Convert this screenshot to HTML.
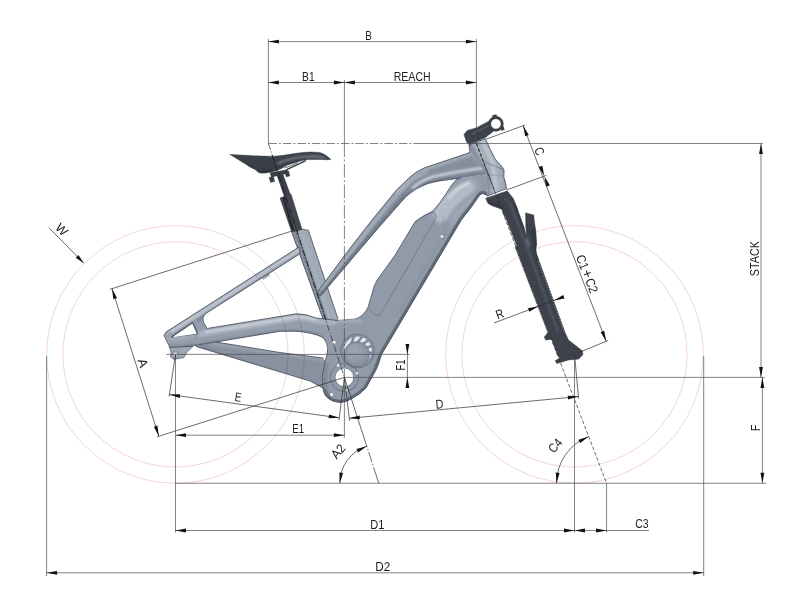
<!DOCTYPE html>
<html><head><meta charset="utf-8"><title>Geometry</title>
<style>
html,body{margin:0;padding:0;background:#fff;}
body{width:800px;height:612px;overflow:hidden;font-family:"Liberation Sans",sans-serif;}
svg{display:block;}
text{font-family:"Liberation Sans",sans-serif;-webkit-font-smoothing:antialiased;}
svg{will-change:transform;}
</style></head><body>
<svg width="800" height="612" viewBox="0 0 800 612">
<rect width="800" height="612" fill="#ffffff"/>
<defs>
<filter id="b1" filterUnits="userSpaceOnUse" x="0" y="0" width="800" height="612"><feGaussianBlur stdDeviation="0.9"/></filter>
<filter id="b3" filterUnits="userSpaceOnUse" x="0" y="0" width="800" height="612"><feGaussianBlur stdDeviation="0.5"/></filter>
<filter id="b2s" filterUnits="userSpaceOnUse" x="0" y="0" width="800" height="612"><feGaussianBlur stdDeviation="1.8"/></filter>
<filter id="b2" filterUnits="userSpaceOnUse" x="0" y="0" width="800" height="612"><feGaussianBlur stdDeviation="3"/></filter>
<linearGradient id="gSaddle" x1="0" y1="0" x2="1" y2="0">
<stop offset="0" stop-color="#3a3f48"/><stop offset="0.55" stop-color="#3c414a"/><stop offset="0.8" stop-color="#5a606b"/><stop offset="1" stop-color="#3f444d"/>
</linearGradient>
<linearGradient id="gFrame" x1="0" y1="0" x2="1" y2="1">
<stop offset="0" stop-color="#a3acb9"/><stop offset="1" stop-color="#838d9c"/>
</linearGradient>
<linearGradient id="gSeat" x1="0" y1="0" x2="1" y2="0">
<stop offset="0" stop-color="#7c8695"/><stop offset="0.4" stop-color="#99a3b1"/><stop offset="0.55" stop-color="#a8b1be"/><stop offset="1" stop-color="#8893a2"/>
</linearGradient>
<linearGradient id="gStay" x1="0" y1="0" x2="0.35" y2="1">
<stop offset="0" stop-color="#a4adba"/><stop offset="0.5" stop-color="#98a2b0"/><stop offset="1" stop-color="#7f8a99"/>
</linearGradient>
<linearGradient id="gTop" x1="0" y1="0" x2="1" y2="1">
<stop offset="0" stop-color="#a2abb8"/><stop offset="0.5" stop-color="#939dab"/><stop offset="1" stop-color="#808b9a"/>
</linearGradient>
<linearGradient id="gDown" x1="0" y1="0" x2="1" y2="0.6">
<stop offset="0" stop-color="#98a2b0"/><stop offset="0.55" stop-color="#8f99a8"/><stop offset="1" stop-color="#7d8796"/>
</linearGradient>
<linearGradient id="gHead" x1="0" y1="0" x2="1" y2="0">
<stop offset="0" stop-color="#7f8998"/><stop offset="0.5" stop-color="#a3acb9"/><stop offset="1" stop-color="#8c96a5"/>
</linearGradient>
<radialGradient id="gMotor" cx="0.4" cy="0.35" r="0.8">
<stop offset="0" stop-color="#9ca6b4"/><stop offset="1" stop-color="#87919f"/>
</radialGradient>
<linearGradient id="gDark" x1="0" y1="0" x2="1" y2="0">
<stop offset="0" stop-color="#3b4049"/><stop offset="0.5" stop-color="#4b515c"/><stop offset="1" stop-color="#30343c"/>
</linearGradient>
</defs>
<clipPath id="cp1"><path d="M196,345.5 L216,342 L280,352.5 L323,358 L335,372 L323,388 L310,381 L196,346.5 Z"/></clipPath>
<path d="M196,345.5 L216,342 L280,352.5 L323,358 L335,372 L323,388 L310,381 L196,346.5 Z" fill="#8791a0"/>
<g clip-path="url(#cp1)">
<path d="M210,343.5 L325,360" fill="none" stroke="#a7b0bd" stroke-width="3" stroke-linecap="round" stroke-linejoin="round" opacity="0.6" filter="url(#b1)"/>
<path d="M200,348 L322,388" fill="none" stroke="#717b8a" stroke-width="3" stroke-linecap="round" stroke-linejoin="round" opacity="0.7" filter="url(#b1)"/>
</g>
<path d="M216,342 L280,352.5 L323,358 M196,346.5 L310,381 L323,388" fill="none" stroke="#464d59" stroke-width="0.8" stroke-linejoin="round" stroke-linecap="round"/>
<polygon points="169.0,346.0 171.0,352.0 170.5,357.0 174.0,359.5 184.0,357.5 187.0,352.0 193.0,346.5" fill="#9ea7b4" stroke="#464d59" stroke-width="0.6" stroke-linejoin="round" />
<circle cx="175.4" cy="354.4" r="3.4" fill="#aab3bf" stroke="#6a7483" stroke-width="0.5"/>
<circle cx="175.4" cy="354.4" r="1.9" fill="#eef0f3" stroke="#6a7483" stroke-width="0.4"/>
<clipPath id="cp2"><path d="M291.5,231.5 L297.2,231 L297.4,228.4 L308.4,230.3 L338,319 L341,330 L325,330 L323,319 Z"/></clipPath>
<path d="M291.5,231.5 L297.2,231 L297.4,228.4 L308.4,230.3 L338,319 L341,330 L325,330 L323,319 Z" fill="#a1aab7"/>
<g clip-path="url(#cp2)">
<path d="M294,231 L326.5,325" fill="none" stroke="#7b8594" stroke-width="6.2" stroke-linecap="round" stroke-linejoin="round" opacity="1" filter="url(#b3)"/>
<path d="M292.6,232 L324,321" fill="none" stroke="#9fa9b6" stroke-width="1.6" stroke-linecap="round" stroke-linejoin="round" opacity="0.9" filter="url(#b1)"/>
<path d="M301,229 L331,322" fill="none" stroke="#a9b2be" stroke-width="3" stroke-linecap="round" stroke-linejoin="round" opacity="0.7" filter="url(#b1)"/>
</g>
<path d="M323,319 L291.5,231.5 L297.2,231 L297.4,228.4 L308.4,230.3 L338,319" fill="none" stroke="#464d59" stroke-width="0.8" stroke-linejoin="round" stroke-linecap="round"/>
<polygon points="262.0,277.5 268.5,273.5 269.5,275.5 263.5,279.5" fill="#aab3bf" stroke="#7d8795" stroke-width="0.4" stroke-linejoin="round" />
<clipPath id="cp3"><path d="M164,335.5 L166,332 L299,247 L300.3,253.6 L205.5,313.7 Q201.5,317.5 203.5,322 L207,328.5 L296,313.8 Q305,313.5 316,318 L338,320.5 L340,345 L327.5,352 Q328.5,342 322,337 Q312,332.5 296,331.2 L280,331.3 L190,346.3 L170,347.5 Z M171.6,336.8 L192.6,322.6 L197.6,333.4 Z" clip-rule="evenodd"/></clipPath>
<path d="M164,335.5 L166,332 L299,247 L300.3,253.6 L205.5,313.7 Q201.5,317.5 203.5,322 L207,328.5 L296,313.8 Q305,313.5 316,318 L338,320.5 L340,345 L327.5,352 Q328.5,342 322,337 Q312,332.5 296,331.2 L280,331.3 L190,346.3 L170,347.5 Z M171.6,336.8 L192.6,322.6 L197.6,333.4 Z" fill="#939dab" fill-rule="evenodd"/>
<g clip-path="url(#cp3)">
<path d="M166,333.5 L299,248.5" fill="none" stroke="#a7b0bd" stroke-width="4" stroke-linecap="round" stroke-linejoin="round" opacity="0.9" filter="url(#b1)"/>
<path d="M172,331.6 L299,250.4" fill="none" stroke="#dce1e8" stroke-width="1.6" stroke-linecap="round" stroke-linejoin="round" opacity="1" filter="url(#b1)"/>
<path d="M198,320.5 L300.5,255" fill="none" stroke="#717b8a" stroke-width="2.2" stroke-linecap="round" stroke-linejoin="round" opacity="0.85" filter="url(#b1)"/>
<path d="M200,334 L296,318 Q308,317.5 320,321.5 L338,323" fill="none" stroke="#abb4c0" stroke-width="6" stroke-linecap="round" stroke-linejoin="round" opacity="0.95" filter="url(#b1)"/>
<path d="M206,332 L296,316.9 Q306,316.5 316,319.7" fill="none" stroke="#dce1e8" stroke-width="1.7" stroke-linecap="round" stroke-linejoin="round" opacity="1" filter="url(#b1)"/>
<path d="M186,347.5 L280,332 L298,332 Q314,333.5 322,338" fill="none" stroke="#717b8a" stroke-width="3.5" stroke-linecap="round" stroke-linejoin="round" opacity="0.8" filter="url(#b1)"/>
<path d="M166,340 L192,336" fill="none" stroke="#a7b0bd" stroke-width="5" stroke-linecap="round" stroke-linejoin="round" opacity="0.7" filter="url(#b1)"/>
<path d="M168,347 L192,345.5" fill="none" stroke="#717b8a" stroke-width="2" stroke-linecap="round" stroke-linejoin="round" opacity="0.7" filter="url(#b1)"/>
</g>
<path d="M356,319 L338,320.5 L316,318 Q305,313.5 296,313.8 L207,328.5 L203.5,322 Q201.5,317.5 205.5,313.7 L300.3,253.6 L299,247 L166,332 L164,335.5 L170,347.5 L190,346.3 L280,331.3 L296,331.2 Q312,332.5 322,337 Q328.5,342 327.5,352 M171.6,336.8 L192.6,322.6 L197.6,333.4 Z" fill="none" stroke="#464d59" stroke-width="0.8" stroke-linejoin="round" stroke-linecap="round"/>
<path d="M171.6,336.8 L192.6,322.6 L197.6,333.4" fill="none" stroke="#5b6473" stroke-width="1.5" stroke-linejoin="round"/>
<path d="M172.8,337.2 L192.4,324.4 L196.2,333.8 Z" fill="#ffffff" stroke="none"/>
<clipPath id="cp4"><path d="M317.5,293.5 L319.6,289 L351,247 L372,220 L396.5,190 L408.5,178.5 Q414,172.5 424,168 L470,152.5 L487,174 L460,178 L454,179 Q438,180.5 428,183.5 Q415,188 406,196.5 L380,226 L351,260 L320.5,296 Z"/></clipPath>
<path d="M317.5,293.5 L319.6,289 L351,247 L372,220 L396.5,190 L408.5,178.5 Q414,172.5 424,168 L470,152.5 L487,174 L460,178 L454,179 Q438,180.5 428,183.5 Q415,188 406,196.5 L380,226 L351,260 L320.5,296 Z" fill="#858f9e"/>
<g clip-path="url(#cp4)">
<path d="M318,290 L351,247 L372,220 L396.5,190" fill="none" stroke="#9aa4b2" stroke-width="5.5" stroke-linecap="round" stroke-linejoin="round" opacity="0.95" filter="url(#b1)"/>
<path d="M396.5,190 L409,177.5 Q415,171.5 424,168 L470,152.5" fill="none" stroke="#a5aebb" stroke-width="7" stroke-linecap="round" stroke-linejoin="round" opacity="0.95" filter="url(#b1)"/>
<path d="M322.5,289.5 L353,250 L374,223 L398.5,193.5 L411,181.5 Q417,176 427,172.5" fill="none" stroke="#c3cad4" stroke-width="1.6" stroke-linecap="round" stroke-linejoin="round" opacity="0.85" filter="url(#b1)"/>
<path d="M320.5,296 L351,260 L380,226 L406,196.5 Q415,188 428,183.5 Q438,180.5 454,179 L487,174.5" fill="none" stroke="#6c7685" stroke-width="4.2" stroke-linecap="round" stroke-linejoin="round" opacity="0.95" filter="url(#b1)"/>
<path d="M321.5,292.5 L352,255 L381.5,221 L404.5,194" fill="none" stroke="#646e7d" stroke-width="0.7" stroke-linecap="round" stroke-linejoin="round" opacity="0.8"/>
<path d="M413,188 Q421,180.5 432,177 Q450,172.5 486,167.5" fill="none" stroke="#d3d9e1" stroke-width="2.6" stroke-linecap="round" stroke-linejoin="round" opacity="0.95" filter="url(#b1)"/>
<path d="M430,165.5 L470,153" fill="none" stroke="#9aa4b2" stroke-width="3" stroke-linecap="round" stroke-linejoin="round" opacity="0.8" filter="url(#b1)"/>
</g>
<path d="M460,178 L454,179 Q438,180.5 428,183.5 Q415,188 406,196.5 L380,226 L351,260 L320.5,296 L317.5,293.5 L319.6,289 L351,247 L372,220 L396.5,190 L408.5,178.5 Q414,172.5 424,168 L470,152.5" fill="none" stroke="#464d59" stroke-width="0.8" stroke-linejoin="round" stroke-linecap="round"/>
<clipPath id="cp5"><path d="M338,320.5 L356,319 Q362,317 366,311 L368.3,306.6 Q370,300 371.7,295 Q373.5,286.5 376.7,280.7 L394.8,255.6 L415.2,221.5 Q424,215 433,211 Q440,203 446,194 Q451,185 456,180 L460,178 L487,174 L487.7,195.8 L482.9,193.5 Q480,194.3 478.9,196.3 L470.9,207.8 L461.3,220 L437.6,260 L413.9,300 L387.8,344 L381.5,354.6 Q378.5,365 376,370 L366,388 Q360,394.5 352,398.5 Q346,402.5 340,402.5 Q333,402 329,399 Q324.5,396 323.5,391 L323,388 Q321,375 325,362 Q327,355 327.5,351 L332,330 Z"/></clipPath>
<path d="M338,320.5 L356,319 Q362,317 366,311 L368.3,306.6 Q370,300 371.7,295 Q373.5,286.5 376.7,280.7 L394.8,255.6 L415.2,221.5 Q424,215 433,211 Q440,203 446,194 Q451,185 456,180 L460,178 L487,174 L487.7,195.8 L482.9,193.5 Q480,194.3 478.9,196.3 L470.9,207.8 L461.3,220 L437.6,260 L413.9,300 L387.8,344 L381.5,354.6 Q378.5,365 376,370 L366,388 Q360,394.5 352,398.5 Q346,402.5 340,402.5 Q333,402 329,399 Q324.5,396 323.5,391 L323,388 Q321,375 325,362 Q327,355 327.5,351 L332,330 Z" fill="#909aa9"/>
<g clip-path="url(#cp5)">
<path d="M440,214 Q452,196 470,186" fill="none" stroke="#a7b0bd" stroke-width="16" stroke-linecap="round" stroke-linejoin="round" opacity="0.9" filter="url(#b2)"/>
<path d="M441,216 Q450,198 468,187.5" fill="none" stroke="#b4bcc7" stroke-width="13" stroke-linecap="round" stroke-linejoin="round" opacity="0.95" filter="url(#b2s)"/>
<path d="M452,222 Q462,204 478,197" fill="none" stroke="#a3acb9" stroke-width="5" stroke-linecap="round" stroke-linejoin="round" opacity="0.8" filter="url(#b2s)"/>
<path d="M449,198 Q455,188.5 468,183.5" fill="none" stroke="#d3d9e1" stroke-width="3.2" stroke-linecap="round" stroke-linejoin="round" opacity="0.95" filter="url(#b1)"/>
<path d="M436,213 Q443,203 449,193" fill="none" stroke="#c3cad4" stroke-width="2" stroke-linecap="round" stroke-linejoin="round" opacity="0.7" filter="url(#b1)"/>
<path d="M487.7,195.8 L482.9,193.5 Q480,194.3 478.9,196.3 L470.9,207.8 L461.3,220 L437.6,260 L413.9,300 L387.8,344 L381.5,354.6 L376,370 L366,388 Q360,394.5 352,398.5 Q346,402.5 340,402.5 Q333,402 329,399 L323.5,391" fill="none" stroke="#5f6877" stroke-width="5.5" stroke-linecap="round" stroke-linejoin="round" opacity="0.95" filter="url(#b3)"/>
<path d="M443,217 L446,232 L398,315" fill="none" stroke="#7b8594" stroke-width="1.2" stroke-linecap="round" stroke-linejoin="round" opacity="0.6" filter="url(#b1)"/>
<path d="M330,322 L360,321" fill="none" stroke="#a7b0bd" stroke-width="4" stroke-linecap="round" stroke-linejoin="round" opacity="0.7" filter="url(#b1)"/>
<path d="M327,365 Q323,380 327,395" fill="none" stroke="#717b8a" stroke-width="3" stroke-linecap="round" stroke-linejoin="round" opacity="0.6" filter="url(#b1)"/>
</g>
<path d="M356,319 Q362,317 366,311 L368.3,306.6 Q370,300 371.7,295 Q373.5,286.5 376.7,280.7 L394.8,255.6 L415.2,221.5 Q424,215 433,211 Q440,203 446,194 Q451,185 456,180 L460,178 M487.7,195.8 L482.9,193.5 Q480,194.3 478.9,196.3 L470.9,207.8 L461.3,220 L437.6,260 L413.9,300 L387.8,344 L381.5,354.6 Q378.5,365 376,370 L366,388 Q360,394.5 352,398.5 Q346,402.5 340,402.5 Q333,402 329,399 Q324.5,396 323.5,391 L323,388 Q321,375 325,362 Q327,355 327.5,351" fill="none" stroke="#464d59" stroke-width="0.8" stroke-linejoin="round" stroke-linecap="round"/>
<path d="M416,222 Q424,215 433.4,211.7 Q436.5,214 435.7,218.6 L380.9,313.4 Q379.5,316 377.4,315.7 Q372.5,314.5 369.4,308.9" fill="none" stroke="#5d6674" stroke-width="0.6"/>
<circle cx="441.9" cy="236.4" r="2.0" fill="#e4e8ec" stroke="#687180" stroke-width="0.6"/>
<clipPath id="cp6"><path d="M468.9,145.1 L485.3,138.6 L490.2,149.2 L495.1,159 L502.5,167.2 L504.1,170.5 L503.8,177 L505.7,183.6 L506.6,188.5 L487.7,195.8 L486.5,174 L470,152.5 Z"/></clipPath>
<path d="M468.9,145.1 L485.3,138.6 L490.2,149.2 L495.1,159 L502.5,167.2 L504.1,170.5 L503.8,177 L505.7,183.6 L506.6,188.5 L487.7,195.8 L486.5,174 L470,152.5 Z" fill="#a6afbc"/>
<g clip-path="url(#cp6)">
<path d="M470,146 L487,175 L488,197" fill="none" stroke="#808a99" stroke-width="5" stroke-linecap="round" stroke-linejoin="round" opacity="0.85" filter="url(#b1)"/>
<path d="M483,142 L493,163 L496,192" fill="none" stroke="#bcc4ce" stroke-width="4.5" stroke-linecap="round" stroke-linejoin="round" opacity="0.95" filter="url(#b1)"/>
<path d="M489,143 L503,169 L506,190" fill="none" stroke="#8a94a3" stroke-width="2.2" stroke-linecap="round" stroke-linejoin="round" opacity="0.8" filter="url(#b1)"/>
</g>
<path d="M470,152.5 L468.9,145.1 L485.3,138.6 L490.2,149.2 L495.1,159 L502.5,167.2 L504.1,170.5 L503.8,177 L505.7,183.6 L506.6,188.5 L487.7,195.8" fill="none" stroke="#464d59" stroke-width="0.8" stroke-linejoin="round" stroke-linecap="round"/>
<path d="M483.6,160.6 L487.7,163.1 L503.3,169.6" stroke="#5d6674" stroke-width="0.6" fill="none"/>
<path d="M487,174.5 L503.8,176" stroke="#7b8594" stroke-width="0.5" fill="none"/>
<circle cx="495.1" cy="166.9" r="1.0" fill="#dfe3e8" stroke="#6a7483" stroke-width="0.4"/>
<circle cx="357.5" cy="351" r="16.8" fill="#8791a0" stroke="#566070" stroke-width="0.6"/>
<circle cx="357.8" cy="350.6" r="14.3" fill="#e4e7eb" stroke="#6a7483" stroke-width="0.4"/>
<line x1="351.0" y1="344.2" x2="354.2" y2="336.2" stroke="#7d8796" stroke-width="2.4"/>
<line x1="357.2" y1="342.6" x2="362.4" y2="336.5" stroke="#7d8796" stroke-width="2.4"/>
<line x1="362.6" y1="344.2" x2="368.4" y2="340.3" stroke="#7d8796" stroke-width="2.4"/>
<line x1="366.4" y1="347.7" x2="371.9" y2="346.0" stroke="#7d8796" stroke-width="2.4"/>
<line x1="368.3" y1="352.6" x2="372.5" y2="352.7" stroke="#7d8796" stroke-width="2.4"/>
<circle cx="356.8" cy="354.2" r="12.6" fill="#8d97a6" stroke="#5b6473" stroke-width="0.6"/>
<circle cx="356.5" cy="353.9" r="10.6" fill="url(#gMotor)" stroke="#7a8493" stroke-width="0.4"/>
<circle cx="344.4" cy="377.4" r="14.2" fill="none" stroke="#5a6371" stroke-width="0.7"/>
<circle cx="344.4" cy="377.4" r="9.3" fill="#ffffff" stroke="#59616e" stroke-width="0.6"/>
<circle cx="334" cy="342.4" r="2.1" fill="#f4f6f8" stroke="#5f6877" stroke-width="0.5"/>
<circle cx="338.2" cy="365.4" r="1.7" fill="#f4f6f8" stroke="#5f6877" stroke-width="0.5"/>
<circle cx="357" cy="373.2" r="1.6" fill="#f4f6f8" stroke="#5f6877" stroke-width="0.5"/>
<circle cx="331.6" cy="394.6" r="2.0" fill="#f4f6f8" stroke="#5f6877" stroke-width="0.5"/>
<circle cx="346.4" cy="390.4" r="1.6" fill="#f4f6f8" stroke="#5f6877" stroke-width="0.5"/>
<circle cx="175.5" cy="354.4" r="128.8" fill="none" stroke="#efc2c9" stroke-width="0.7" style="mix-blend-mode:multiply"/>
<circle cx="175.5" cy="354.4" r="112.6" fill="none" stroke="#efc2c9" stroke-width="0.7" style="mix-blend-mode:multiply"/>
<circle cx="574.5" cy="354.4" r="128.8" fill="none" stroke="#efc2c9" stroke-width="0.7" style="mix-blend-mode:multiply"/>
<circle cx="574.5" cy="354.4" r="112.6" fill="none" stroke="#efc2c9" stroke-width="0.7" style="mix-blend-mode:multiply"/>
<clipPath id="cp7"><path d="M485.9,198.2 L507.2,190.9 L513.1,198.2 L516.8,207.1 L518.5,212.2 L524.1,227.6 L526.8,238 L525.9,227.6 L525.6,212.9 L533.7,215.1 L534.4,221.8 L535.9,232.1 L536.6,243.8 L535.9,249.7 L536.6,254.1 L565.6,334.1 L568.5,340 L582.5,351 L582.8,354.7 L578.8,359.1 L568.5,359.9 L556.8,363.5 L555.3,360.6 L559.7,358.4 L557.5,354.7 L551.6,339.3 L545.7,340 L544.3,337.1 L547.9,332.6 L515.3,247.5 L516,245.3 L503.5,213.7 L502,209.3 L491.8,205.6 L488.1,203.4 Z"/></clipPath>
<path d="M485.9,198.2 L507.2,190.9 L513.1,198.2 L516.8,207.1 L518.5,212.2 L524.1,227.6 L526.8,238 L525.9,227.6 L525.6,212.9 L533.7,215.1 L534.4,221.8 L535.9,232.1 L536.6,243.8 L535.9,249.7 L536.6,254.1 L565.6,334.1 L568.5,340 L582.5,351 L582.8,354.7 L578.8,359.1 L568.5,359.9 L556.8,363.5 L555.3,360.6 L559.7,358.4 L557.5,354.7 L551.6,339.3 L545.7,340 L544.3,337.1 L547.9,332.6 L515.3,247.5 L516,245.3 L503.5,213.7 L502,209.3 L491.8,205.6 L488.1,203.4 Z" fill="#3d424b"/>
<g clip-path="url(#cp7)">
<path d="M510,203 L528,250 L558,332" fill="none" stroke="#555b66" stroke-width="2.2" stroke-linecap="round" stroke-linejoin="round" opacity="0.9" filter="url(#b1)"/>
<path d="M516,204 L524,226" fill="none" stroke="#2c3037" stroke-width="2.5" stroke-linecap="round" stroke-linejoin="round" opacity="0.8" filter="url(#b1)"/>
<path d="M533,230 L538,256 L566,334" fill="none" stroke="#2c3037" stroke-width="2.2" stroke-linecap="round" stroke-linejoin="round" opacity="0.8" filter="url(#b1)"/>
<path d="M527,238 L529,246" fill="none" stroke="#8d939d" stroke-width="1.5" stroke-linecap="round" stroke-linejoin="round" opacity="0.9" filter="url(#b1)"/>
<path d="M488,202 L502,208" fill="none" stroke="#2c3037" stroke-width="2.5" stroke-linecap="round" stroke-linejoin="round" opacity="0.7" filter="url(#b1)"/>
</g>
<path d="M485.9,198.2 L507.2,190.9 L513.1,198.2 L516.8,207.1 L518.5,212.2 L524.1,227.6 L526.8,238 L525.9,227.6 L525.6,212.9 L533.7,215.1 L534.4,221.8 L535.9,232.1 L536.6,243.8 L535.9,249.7 L536.6,254.1 L565.6,334.1 L568.5,340 L582.5,351 L582.8,354.7 L578.8,359.1 L568.5,359.9 L556.8,363.5 L555.3,360.6 L559.7,358.4 L557.5,354.7 L551.6,339.3 L545.7,340 L544.3,337.1 L547.9,332.6 L515.3,247.5 L516,245.3 L503.5,213.7 L502,209.3 L491.8,205.6 L488.1,203.4 Z" fill="none" stroke="#2b2f36" stroke-width="0.5" stroke-linejoin="round" stroke-linecap="round"/>
<path d="M504.6,216.5 L516.3,246" fill="none" stroke="#dfe2e7" stroke-width="0.9"/>
<path d="M538.5,261 L564.9,334" fill="none" stroke="#e3e6ea" stroke-width="0.7" stroke-dasharray="1.6 1.4" opacity="0.7"/>
<path d="M517,250.5 L548.3,332.2" fill="none" stroke="#e3e6ea" stroke-width="0.7" stroke-dasharray="1.6 1.4" opacity="0.7"/>
<circle cx="504.5" cy="199.5" r="0.7" fill="#6d737d" stroke="none" stroke-width="0.6"/>
<circle cx="507.5" cy="201.3" r="0.7" fill="#6d737d" stroke="none" stroke-width="0.6"/>
<circle cx="508.2" cy="198.3" r="0.6" fill="#6d737d" stroke="none" stroke-width="0.6"/>
<path d="M464,134.5 L467.3,130.4 L476.3,127.9 L488.5,121.4 L493.5,131.2 L485.3,137.5 L468.9,144.6 L466.5,141.8 Z" fill="#3d424b" stroke="#2b2f36" stroke-width="0.5" stroke-linejoin="round" />
<circle cx="495.9" cy="123.8" r="6.3" fill="#ffffff" stroke="#3a3f48" stroke-width="2.3"/>
<circle cx="495.9" cy="123.8" r="7.5" fill="none" stroke="#2b2f36" stroke-width="0.4"/>
<circle cx="495.9" cy="123.8" r="5.2" fill="none" stroke="#2b2f36" stroke-width="0.4"/>
<polygon points="492.3,115.5 496.3,114.6 497.0,116.5 493.0,117.4" fill="#3a3f48" stroke="#2b2f36" stroke-width="0.3" stroke-linejoin="round" />
<polygon points="500.7,128.0 503.6,126.5 504.4,129.5 501.6,130.8" fill="#3a3f48" stroke="#2b2f36" stroke-width="0.3" stroke-linejoin="round" />
<path d="M472,134 L489,125.5" stroke="#596069" stroke-width="1.4" fill="none" opacity="0.8" stroke-linecap="round"/>
<path d="M476.3,128 L478.5,140.5" stroke="#24272d" stroke-width="0.6" fill="none"/>
<polygon points="277.0,175.5 283.0,174.5 290.5,195.0 284.5,197.0" fill="#3a3f48" stroke="#2b2f36" stroke-width="0.4" stroke-linejoin="round" />
<polygon points="280.0,198.0 291.0,194.0 302.0,229.3 298.5,230.5 291.5,231.5" fill="#41464f" stroke="#2b2f36" stroke-width="0.4" stroke-linejoin="round" />
<path d="M283.5,197 L293,230.5" stroke="#23262b" stroke-width="2" fill="none"/>
<clipPath id="cp8"><path d="M230,154.4 L250,155.6 Q262,156.2 272.5,156.4 Q284,155.4 295,153.4 Q303,152.2 310.7,152 Q316,152 319.7,152.6 Q323.5,153.6 326.5,155.7 L331,159.5 Q326,160 322,159.5 L308.5,159.6 Q303,160.2 299.5,161.3 L287.1,165.2 L281,168.8 Q275,171.5 270,172.3 Q264,173.5 260,173 Q257,172 256,170 L250,167 L247,165 Z"/></clipPath>
<path d="M230,154.4 L250,155.6 Q262,156.2 272.5,156.4 Q284,155.4 295,153.4 Q303,152.2 310.7,152 Q316,152 319.7,152.6 Q323.5,153.6 326.5,155.7 L331,159.5 Q326,160 322,159.5 L308.5,159.6 Q303,160.2 299.5,161.3 L287.1,165.2 L281,168.8 Q275,171.5 270,172.3 Q264,173.5 260,173 Q257,172 256,170 L250,167 L247,165 Z" fill="#393e47"/>
<g clip-path="url(#cp8)">
<path d="M278.1,163.2 Q286,159.8 295,158 Q304,156.4 313,156.3 Q319,156.6 324.5,158" fill="none" stroke="#737984" stroke-width="2.4" stroke-linecap="round" stroke-linejoin="round" opacity="0.95" filter="url(#b1)"/>
<path d="M232,155.2 L272,157.2 Q290,156 310,152.8" fill="none" stroke="#4a505a" stroke-width="1.2" stroke-linecap="round" stroke-linejoin="round" opacity="0.8" filter="url(#b1)"/>
<path d="M248,166 L258,172 L272,171" fill="none" stroke="#2a2e34" stroke-width="2" stroke-linecap="round" stroke-linejoin="round" opacity="0.8" filter="url(#b1)"/>
</g>
<path d="M230,154.4 L250,155.6 Q262,156.2 272.5,156.4 Q284,155.4 295,153.4 Q303,152.2 310.7,152 Q316,152 319.7,152.6 Q323.5,153.6 326.5,155.7 L331,159.5 Q326,160 322,159.5 L308.5,159.6 Q303,160.2 299.5,161.3 L287.1,165.2 L281,168.8 Q275,171.5 270,172.3 Q264,173.5 260,173 Q257,172 256,170 L250,167 L247,165 Z" fill="none" stroke="#2b2f36" stroke-width="0.4" stroke-linejoin="round" stroke-linecap="round"/>
<path d="M286.8,169.6 L305.3,160.9" stroke="#353a42" stroke-width="1.4" fill="none" stroke-linecap="round"/>
<path d="M284.5,168 Q290,166.5 298,162.5" stroke="#353a42" stroke-width="0.8" fill="none"/>
<polygon points="270.0,172.8 287.0,169.8 288.5,173.2 271.5,177.0" fill="#3a3f48" stroke="#2b2f36" stroke-width="0.4" stroke-linejoin="round" />
<polygon points="269.1,177.4 273.4,176.4 274.6,181.4 270.6,182.4" fill="#3a3f48" stroke="#2b2f36" stroke-width="0.4" stroke-linejoin="round" />
<polygon points="284.9,171.6 288.6,170.9 289.8,176.0 286.2,176.8" fill="#3a3f48" stroke="#2b2f36" stroke-width="0.4" stroke-linejoin="round" />
<line x1="268.40" y1="39.00" x2="268.40" y2="143.50" stroke="#4d4d4d" stroke-width="0.7"/>
<line x1="476.40" y1="39.00" x2="476.40" y2="143.50" stroke="#4d4d4d" stroke-width="0.7"/>
<line x1="344.40" y1="80.00" x2="344.40" y2="143.50" stroke="#4d4d4d" stroke-width="0.7"/>
<line x1="268.40" y1="41.60" x2="476.40" y2="41.60" stroke="#4d4d4d" stroke-width="0.7"/>
<polygon points="268.40,41.60 278.90,39.70 278.90,43.50" fill="#111"/>
<polygon points="476.40,41.60 465.90,43.50 465.90,39.70" fill="#111"/>
<line x1="268.40" y1="82.50" x2="476.40" y2="82.50" stroke="#4d4d4d" stroke-width="0.7"/>
<polygon points="268.40,82.50 278.90,80.60 278.90,84.40" fill="#111"/>
<polygon points="344.40,82.50 333.90,84.40 333.90,80.60" fill="#111"/>
<polygon points="344.40,82.50 354.90,80.60 354.90,84.40" fill="#111"/>
<polygon points="476.40,82.50 465.90,84.40 465.90,80.60" fill="#111"/>
<text x="368.60" y="39.75" font-size="12.7" text-anchor="middle" fill="#1c1c1c" textLength="6.6" lengthAdjust="spacingAndGlyphs">B</text>
<text x="308.40" y="80.75" font-size="12.7" text-anchor="middle" fill="#1c1c1c" textLength="12.6" lengthAdjust="spacingAndGlyphs">B1</text>
<text x="412.20" y="80.75" font-size="12.7" text-anchor="middle" fill="#1c1c1c" textLength="37.0" lengthAdjust="spacingAndGlyphs">REACH</text>
<line x1="268.40" y1="143.50" x2="421.00" y2="143.50" stroke="#4d4d4d" stroke-width="0.7" stroke-dasharray="8.5 2 2 2"/>
<line x1="421.00" y1="143.50" x2="763.00" y2="143.50" stroke="#4d4d4d" stroke-width="0.7"/>
<line x1="344.40" y1="143.50" x2="344.40" y2="377.40" stroke="#4d4d4d" stroke-width="0.7" stroke-dasharray="13.5 2.5 2 2.5"/>
<line x1="268.40" y1="143.50" x2="344.40" y2="377.40" stroke="#2c2c2c" stroke-width="0.7" stroke-dasharray="6.6 1.6 1.4 1.6"/>
<line x1="272.14" y1="155.00" x2="296.67" y2="230.50" stroke="#17191d" stroke-width="0.75" stroke-dasharray="6.6 1.6 1.4 1.6" stroke-dashoffset="12.09"/>
<line x1="296.67" y1="230.50" x2="326.40" y2="322.00" stroke="#23262b" stroke-width="0.8" stroke-dasharray="6.6 1.6 1.4 1.6" stroke-dashoffset="91.48"/>
<line x1="344.40" y1="377.40" x2="367.11" y2="447.30" stroke="#2c2c2c" stroke-width="0.7"/>
<line x1="367.11" y1="447.30" x2="378.79" y2="483.25" stroke="#2c2c2c" stroke-width="0.7" stroke-dasharray="0 1.8 1.4 1.8 10.5 2 1.4 2 30"/>
<line x1="476.40" y1="143.50" x2="606.57" y2="483.25" stroke="#2c2c2c" stroke-width="0.7" stroke-dasharray="3.6 2"/>
<line x1="476.40" y1="143.50" x2="494.98" y2="192.00" stroke="#23262b" stroke-width="0.9" stroke-dasharray="3.2 2"/>
<line x1="761.00" y1="143.50" x2="761.00" y2="377.40" stroke="#8c8c8c" stroke-width="1.1"/>
<line x1="762.40" y1="377.40" x2="762.40" y2="483.25" stroke="#4d4d4d" stroke-width="0.7"/>
<line x1="344.40" y1="377.40" x2="764.80" y2="377.40" stroke="#4d4d4d" stroke-width="0.7"/>
<line x1="175.50" y1="483.25" x2="766.00" y2="483.25" stroke="#4d4d4d" stroke-width="0.7"/>
<polygon points="761.00,143.50 762.90,154.00 759.10,154.00" fill="#111"/>
<polygon points="761.00,377.40 759.10,366.90 762.90,366.90" fill="#111"/>
<polygon points="762.40,377.40 764.30,387.90 760.50,387.90" fill="#111"/>
<polygon points="762.40,483.25 760.50,472.75 764.30,472.75" fill="#111"/>
<text x="759.15" y="258.60" font-size="12.7" text-anchor="middle" fill="#1c1c1c" textLength="35.1" lengthAdjust="spacingAndGlyphs" transform="rotate(-90 759.15 258.60)">STACK</text>
<text x="759.55" y="427.90" font-size="12.7" text-anchor="middle" fill="#1c1c1c" textLength="6.6" lengthAdjust="spacingAndGlyphs" transform="rotate(-90 759.55 427.90)">F</text>
<line x1="166.00" y1="354.40" x2="410.00" y2="354.40" stroke="#4d4d4d" stroke-width="0.7"/>
<line x1="407.40" y1="344.00" x2="407.40" y2="388.00" stroke="#4d4d4d" stroke-width="0.7"/>
<polygon points="407.40,354.40 405.50,343.90 409.30,343.90" fill="#111"/>
<polygon points="407.40,377.40 409.30,387.90 405.50,387.90" fill="#111"/>
<text x="405.15" y="365.00" font-size="12.7" text-anchor="middle" fill="#1c1c1c" textLength="10.9" lengthAdjust="spacingAndGlyphs" transform="rotate(-90 405.15 365.00)">F1</text>
<line x1="175.50" y1="354.40" x2="175.50" y2="532.50" stroke="#4d4d4d" stroke-width="0.7"/>
<line x1="574.50" y1="354.40" x2="574.50" y2="532.50" stroke="#4d4d4d" stroke-width="0.7"/>
<line x1="606.57" y1="483.25" x2="606.57" y2="532.50" stroke="#4d4d4d" stroke-width="0.7"/>
<line x1="175.50" y1="530.50" x2="649.00" y2="530.50" stroke="#4d4d4d" stroke-width="0.7"/>
<polygon points="175.50,530.50 186.00,528.60 186.00,532.40" fill="#111"/>
<polygon points="574.50,530.50 564.00,532.40 564.00,528.60" fill="#111"/>
<polygon points="574.50,530.50 585.00,528.60 585.00,532.40" fill="#111"/>
<polygon points="606.57,530.50 596.07,532.40 596.07,528.60" fill="#111"/>
<text x="377.30" y="528.85" font-size="12.7" text-anchor="middle" fill="#1c1c1c" textLength="14.1" lengthAdjust="spacingAndGlyphs">D1</text>
<text x="641.90" y="528.25" font-size="12.7" text-anchor="middle" fill="#1c1c1c" textLength="13.4" lengthAdjust="spacingAndGlyphs">C3</text>
<line x1="46.60" y1="356.00" x2="46.60" y2="576.00" stroke="#4d4d4d" stroke-width="0.7"/>
<line x1="703.70" y1="356.00" x2="703.70" y2="576.00" stroke="#4d4d4d" stroke-width="0.7"/>
<line x1="46.60" y1="572.80" x2="703.70" y2="572.80" stroke="#4d4d4d" stroke-width="0.7"/>
<polygon points="46.60,572.80 57.10,570.90 57.10,574.70" fill="#111"/>
<polygon points="703.70,572.80 693.20,574.70 693.20,570.90" fill="#111"/>
<text x="382.80" y="570.75" font-size="12.7" text-anchor="middle" fill="#1c1c1c" textLength="15.0" lengthAdjust="spacingAndGlyphs">D2</text>
<line x1="344.40" y1="377.40" x2="344.40" y2="437.50" stroke="#4d4d4d" stroke-width="0.7"/>
<line x1="175.50" y1="435.20" x2="344.40" y2="435.20" stroke="#4d4d4d" stroke-width="0.7"/>
<polygon points="175.50,435.20 186.00,433.30 186.00,437.10" fill="#111"/>
<polygon points="344.40,435.20 333.90,437.10 333.90,433.30" fill="#111"/>
<text x="298.10" y="432.85" font-size="12.7" text-anchor="middle" fill="#1c1c1c" textLength="11.9" lengthAdjust="spacingAndGlyphs">E1</text>
<line x1="175.50" y1="354.40" x2="169.10" y2="396.60" stroke="#2c2c2c" stroke-width="0.7"/>
<line x1="344.40" y1="377.40" x2="338.90" y2="420.30" stroke="#2c2c2c" stroke-width="0.7"/>
<line x1="169.50" y1="394.60" x2="339.20" y2="417.80" stroke="#2c2c2c" stroke-width="0.7"/>
<polygon points="169.50,394.60 180.16,394.14 179.65,397.90" fill="#111"/>
<polygon points="339.20,417.80 328.54,418.26 329.05,414.50" fill="#111"/>
<text x="237.63" y="401.50" font-size="12.7" text-anchor="middle" fill="#1c1c1c" textLength="6.6" lengthAdjust="spacingAndGlyphs" transform="rotate(7.8 237.63 401.50)">E</text>
<line x1="344.40" y1="377.40" x2="349.60" y2="420.80" stroke="#2c2c2c" stroke-width="0.7"/>
<line x1="574.50" y1="354.40" x2="578.60" y2="398.60" stroke="#2c2c2c" stroke-width="0.7"/>
<line x1="349.30" y1="418.30" x2="578.40" y2="396.60" stroke="#2c2c2c" stroke-width="0.7"/>
<polygon points="349.30,418.30 359.57,415.42 359.93,419.20" fill="#111"/>
<polygon points="578.40,396.60 568.13,399.48 567.77,395.70" fill="#111"/>
<text x="439.92" y="408.28" font-size="12.7" text-anchor="middle" fill="#1c1c1c" textLength="7.8" lengthAdjust="spacingAndGlyphs" transform="rotate(-5.3 439.92 408.28)">D</text>
<line x1="292.00" y1="231.00" x2="110.00" y2="289.30" stroke="#2c2c2c" stroke-width="0.7"/>
<line x1="344.40" y1="377.40" x2="156.80" y2="436.90" stroke="#2c2c2c" stroke-width="0.7"/>
<line x1="112.00" y1="288.60" x2="158.80" y2="436.20" stroke="#2c2c2c" stroke-width="0.7"/>
<polygon points="112.00,288.60 116.98,298.03 113.36,299.18" fill="#111"/>
<polygon points="158.80,436.20 153.82,426.77 157.44,425.62" fill="#111"/>
<text x="138.67" y="364.37" font-size="12.7" text-anchor="middle" fill="#1c1c1c" textLength="8.6" lengthAdjust="spacingAndGlyphs" transform="rotate(72.4 138.67 364.37)">A</text>
<line x1="49.00" y1="227.90" x2="83.90" y2="263.20" stroke="#2c2c2c" stroke-width="0.7"/>
<polygon points="83.90,263.20 75.77,257.76 78.46,255.07" fill="#111"/>
<text x="58.59" y="232.71" font-size="12.7" text-anchor="middle" fill="#1c1c1c" textLength="11.6" lengthAdjust="spacingAndGlyphs" transform="rotate(45 58.59 232.71)">W</text>
<line x1="486.00" y1="139.20" x2="525.20" y2="125.00" stroke="#2c2c2c" stroke-width="0.7"/>
<line x1="506.00" y1="190.20" x2="546.30" y2="175.40" stroke="#2c2c2c" stroke-width="0.7"/>
<line x1="580.00" y1="352.00" x2="608.20" y2="340.50" stroke="#2c2c2c" stroke-width="0.7"/>
<line x1="523.20" y1="125.80" x2="606.20" y2="341.30" stroke="#2c2c2c" stroke-width="0.7"/>
<polygon points="523.20,125.80 528.75,134.92 525.20,136.28" fill="#111"/>
<polygon points="544.30,176.20 538.75,167.08 542.30,165.72" fill="#111"/>
<polygon points="544.30,176.20 549.85,185.32 546.30,186.68" fill="#111"/>
<polygon points="606.20,341.30 600.65,332.18 604.20,330.82" fill="#111"/>
<text x="535.26" y="152.84" font-size="12.7" text-anchor="middle" fill="#1c1c1c" textLength="7.6" lengthAdjust="spacingAndGlyphs" transform="rotate(68.9 535.26 152.84)">C</text>
<text x="583.06" y="275.44" font-size="12.7" text-anchor="middle" fill="#1c1c1c" textLength="40.1" lengthAdjust="spacingAndGlyphs" transform="rotate(68.9 583.06 275.44)">C1<tspan font-size="15" dx="1.2" dy="0.5">+</tspan><tspan dx="1.2" dy="-0.5">C2</tspan></text>
<line x1="494.00" y1="323.00" x2="563.50" y2="296.80" stroke="#2c2c2c" stroke-width="0.7"/>
<polygon points="538.50,306.20 529.35,311.68 528.00,308.13" fill="#111"/>
<polygon points="554.00,300.40 563.15,294.92 564.50,298.47" fill="#111"/>
<text x="501.21" y="318.25" font-size="12.7" text-anchor="middle" fill="#1c1c1c" textLength="7.6" lengthAdjust="spacingAndGlyphs" transform="rotate(-20.7 501.21 318.25)">R</text>
<path d="M366.74,446.16 A39,39 0 0 0 339.79,483.25" fill="none" stroke="#2c2c2c" stroke-width="0.7"/>
<polygon points="339.79,483.25 339.32,472.59 343.09,473.10" fill="#111"/>
<polygon points="366.74,446.16 358.11,452.43 356.46,449.00" fill="#111"/>
<text x="341.51" y="454.14" font-size="12.7" text-anchor="middle" fill="#1c1c1c" textLength="14.6" lengthAdjust="spacingAndGlyphs" transform="rotate(-50.6 341.51 454.14)">A2</text>
<path d="M588.68,436.56 A50,50 0 0 0 556.57,483.25" fill="none" stroke="#2c2c2c" stroke-width="0.7"/>
<polygon points="556.57,483.25 555.78,472.61 559.56,473.01" fill="#111"/>
<polygon points="588.68,436.56 580.19,443.02 578.46,439.63" fill="#111"/>
<text x="558.58" y="448.42" font-size="12.7" text-anchor="middle" fill="#1c1c1c" textLength="14.1" lengthAdjust="spacingAndGlyphs" transform="rotate(-50 558.58 448.42)">C4</text>
</svg>
</body></html>
